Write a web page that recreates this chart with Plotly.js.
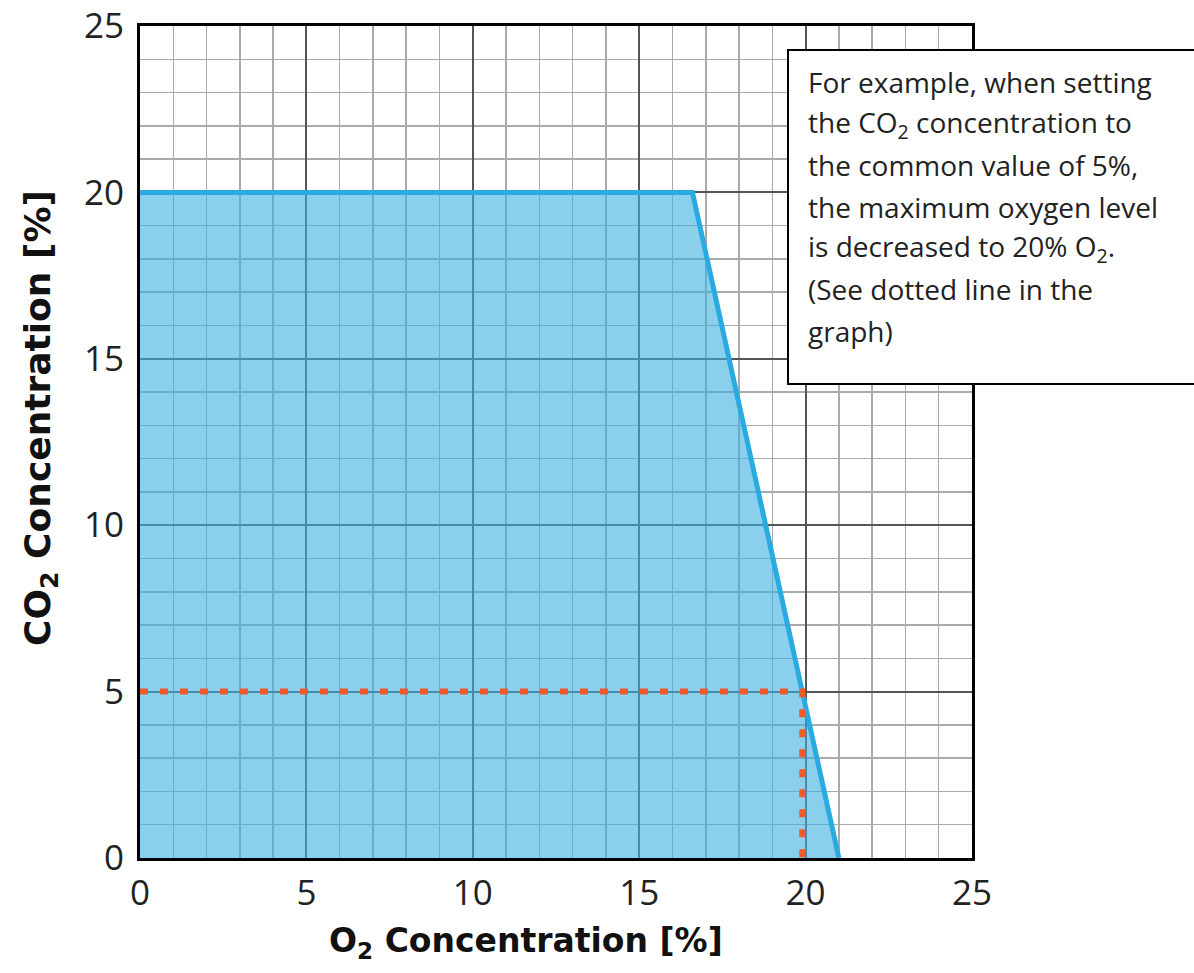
<!DOCTYPE html>
<html>
<head>
<meta charset="utf-8">
<script src="https://cdn.plot.ly/plotly-3.0.1.min.js"></script>
<style>html,body{margin:0;padding:0;background:#fff;}#chart{width:1194px;height:973px;}</style>
</head>
<body>
<div id="chart"></div>
<script>
// Data
const limitO2 = [0, 16.6, 21];
const limitCO2 = [20, 20, 0];
const exampleO2 = [0, 19.9, 19.9];
const exampleCO2 = [5, 5, 0];
const tickValues = [0, 5, 10, 15, 20, 25];
const tickLabels = ['0', '5', '10', '15', '20', '25'];
const noteLines = [
  'For example, when setting',
  'the CO<sub>2</sub> concentration to',
  'the common value of 5%,',
  'the maximum oxygen level',
  'is decreased to 20% O<sub>2</sub>.',
  '(See dotted line in the',
  'graph)'
];
const xTitle = 'O<sub>2</sub> Concentration [%]';
const yTitle = 'CO<sub>2</sub> Concentration [%]';

const traces = [
  {
    x: limitO2, y: limitCO2, type: 'scatter', mode: 'lines',
    fill: 'tozeroy', fillcolor: 'rgba(60,175,222,0.6)',
    line: {color: '#29abe2', width: 5},
    hoverinfo: 'skip', showlegend: false
  },
  {
    x: exampleO2, y: exampleCO2, type: 'scatter', mode: 'lines',
    line: {color: '#f05a28', width: 6, dash: '8px,12px'},
    hoverinfo: 'skip', showlegend: false
  }
];

const axisCommon = {
  range: [0, 25], tickvals: tickValues, ticktext: tickLabels,
  showgrid: true, gridcolor: '#555', gridwidth: 2,
  minor: {dtick: 1, showgrid: true, gridcolor: '#aaaaaa', gridwidth: 1.5},
  zeroline: false, showline: true, mirror: true, linecolor: '#000', linewidth: 3,
  ticks: '', tickfont: {family: 'Open Sans', size: 35, color: '#222'},
  fixedrange: true
};

const annotations = [];
const boxLeftPx = 806, firstLinePx = 82, lineStepPx = 41.5;
noteLines.forEach((t, i) => {
  annotations.push({
    xref: 'paper', yref: 'paper',
    x: (boxLeftPx - 140) / 832,
    y: (858 - (firstLinePx + i * lineStepPx)) / 832,
    xanchor: 'left', yanchor: 'middle', align: 'left', showarrow: false,
    text: t, font: {family: 'Open Sans', size: 28, color: '#222'}
  });
});
annotations.push({
  xref: 'paper', yref: 'paper', x: (526 - 140) / 832, y: (858 - 942) / 832,
  xanchor: 'center', yanchor: 'middle', showarrow: false,
  text: xTitle, font: {family: 'DejaVu Sans', size: 33, color: '#111', weight: 'bold'}
});
annotations.push({
  xref: 'paper', yref: 'paper', x: (40 - 140) / 832, y: (858 - 418) / 832,
  xanchor: 'center', yanchor: 'middle', showarrow: false, textangle: -90,
  text: yTitle, font: {family: 'DejaVu Sans', size: 36, color: '#111', weight: 'bold'}
});

const layout = {
  width: 1194, height: 973,
  margin: {l: 140, r: 222, t: 26, b: 115},
  paper_bgcolor: '#fff', plot_bgcolor: '#fff',
  xaxis: Object.assign({}, axisCommon, {ticklabelstandoff: 2}),
  yaxis: Object.assign({}, axisCommon, {ticklabelstandoff: 6}),
  shapes: [{
    type: 'rect', xref: 'paper', yref: 'paper', layer: 'above',
    x0: (788 - 140) / 832, x1: (1210 - 140) / 832,
    y0: (858 - 384) / 832, y1: (858 - 50) / 832,
    fillcolor: '#fff', line: {color: '#000', width: 2}
  }],
  annotations: annotations,
  showlegend: false
};

Plotly.newPlot('chart', traces, layout, {displayModeBar: false, staticPlot: true});
</script>
</body>
</html>
